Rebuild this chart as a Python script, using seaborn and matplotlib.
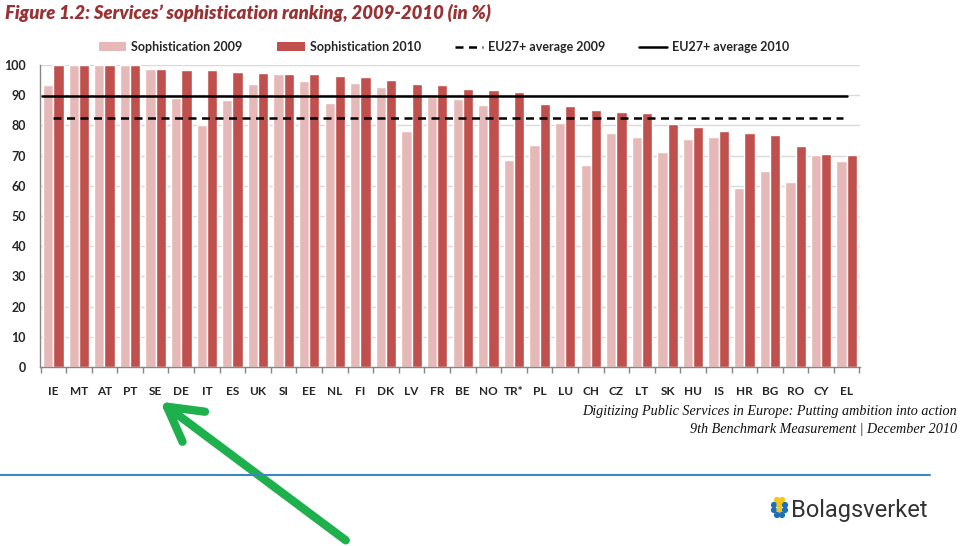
import matplotlib
matplotlib.use("Agg")
import matplotlib.pyplot as plt
from matplotlib.lines import Line2D
from matplotlib.patches import Patch, FancyArrowPatch, Circle
import pandas as pd
import seaborn as sns

# data
countries = ["IE", "MT", "AT", "PT", "SE", "DE", "IT", "ES", "UK", "SI", "EE",
             "NL", "FI", "DK", "LV", "FR", "BE", "NO", "TR*", "PL", "LU", "CH",
             "CZ", "LT", "SK", "HU", "IS", "HR", "BG", "RO", "CY", "EL"]
soph_2009 = [93.4, 100, 100, 100, 98.7, 89.0, 80.1, 88.4, 93.8, 96.9, 94.7,
             87.3, 93.9, 92.8, 78.1, 89.5, 88.7, 86.6, 68.6, 73.6, 80.8, 66.9,
             77.5, 76.3, 71.3, 75.4, 76.0, 59.4, 64.9, 61.2, 70.2, 68.1]
soph_2010 = [100, 100, 100, 100, 98.8, 98.5, 98.3, 97.8, 97.2, 97.0, 96.9,
             96.5, 95.9, 95.0, 93.7, 93.3, 91.9, 91.6, 91.1, 87.0, 86.5, 85.0,
             84.3, 84.1, 80.3, 79.6, 78.3, 77.5, 76.9, 73.1, 70.4, 70.1]
eu_avg_2009 = 82.5
eu_avg_2010 = 89.6
series_names = ["Sophistication 2009", "Sophistication 2010"]
y_ticks = list(range(0, 101, 10))

COL_2009 = "#E6B9B8"
COL_2010 = "#C0504D"

sns.set_theme(style="white")
plt.rcParams["font.family"] = ["Lato", "DejaVu Sans"]

df = pd.DataFrame({
    "country": countries * 2,
    "value": soph_2009 + soph_2010,
    "series": [series_names[0]] * len(countries) + [series_names[1]] * len(countries),
})

fig = plt.figure(figsize=(9.6, 5.46), dpi=100)
fig.patch.set_facecolor("white")
ax = fig.add_axes([40 / 960, 179 / 546, 820 / 960, 302 / 546])

sns.barplot(
    data=df, x="country", y="value", hue="series",
    palette=[COL_2009, COL_2010], width=0.8, saturation=1,
    legend=False, ax=ax,
)

n = len(countries)
ax.plot([-0.45, n - 1], [eu_avg_2010] * 2, color="black", lw=1.8)
ax.plot([0, n - 1.15], [eu_avg_2009] * 2, color="black", lw=1.8,
        dashes=(3.2, 2.2))

ax.set_xlim(-0.52, n - 0.48)
ax.set_ylim(0, 100)
ax.set_yticks(y_ticks)
ax.set_xlabel("")
ax.set_ylabel("")
ax.yaxis.grid(True, color="#D9D9D9", lw=1)
ax.set_axisbelow(True)
for side in ["top", "right"]:
    ax.spines[side].set_visible(False)
for side in ["left", "bottom"]:
    ax.spines[side].set_color("#868686")
    ax.spines[side].set_linewidth(1)

ax.tick_params(axis="y", length=4, color="#868686", labelsize=9, pad=6)
ax.tick_params(axis="x", length=0, labelsize=8.5, pad=14)
ax.set_xticks([i - 0.5 for i in range(n + 1)], minor=True)
ax.tick_params(axis="x", which="minor", length=4, color="#868686",
               direction="out", bottom=True)
for lab in ax.get_xticklabels() + ax.get_yticklabels():
    lab.set_fontweight("bold")

handles = [
    Patch(facecolor=COL_2009, edgecolor="none"),
    Patch(facecolor=COL_2010, edgecolor="none"),
    Line2D([0], [0], color="black", lw=1.8, dashes=(3.2, 2.2)),
    Line2D([0], [0], color="black", lw=1.8),
]
labels = series_names + ["EU27+ average 2009", "EU27+ average 2010"]
fig.legend(handles, labels, ncol=4, loc="center",
           bbox_to_anchor=(444 / 960, 1 - 47 / 546), frameon=False,
           prop={"weight": "bold", "size": 9}, handlelength=2.2,
           handleheight=0.7, columnspacing=2.75, handletextpad=0.4)

fig.text(5 / 960, 1 - 13 / 546,
         "Figure 1.2: Services\u2019 sophistication ranking, 2009-2010 (in %)",
         fontsize=13.3, fontweight="heavy", fontstyle="italic",
         color="#993234", va="center", ha="left")

fig.text(957 / 960, 1 - 411 / 546,
         "Digitizing Public Services in Europe: Putting ambition into action",
         family="Liberation Serif", fontstyle="italic", fontsize=10.2,
         ha="right", va="center", color="#111111")
fig.text(957 / 960, 1 - 429 / 546,
         "9th Benchmark Measurement | December 2010",
         family="Liberation Serif", fontstyle="italic", fontsize=10.2,
         ha="right", va="center", color="#111111")

fig.add_artist(Line2D([0, 930 / 960], [1 - 475 / 546] * 2,
                      transform=fig.transFigure, color="#3C86C1", lw=1.5))

# logo dots + name
dots = [(777, 500, "#F5C518"), (782, 500, "#F5C518"),
        (774, 505, "#1F6FB8"), (779.5, 505, "#F5C518"), (785, 505, "#1F6FB8"),
        (774, 510, "#1F6FB8"), (779.5, 510, "#F5C518"), (785, 510, "#1F6FB8"),
        (777, 515, "#1F6FB8"), (782, 515, "#1F6FB8")]
for x, y, c in dots:
    fig.add_artist(Circle((x, 546 - y), 2.4, transform=None, color=c,
                          zorder=5))
fig.text(791 / 960, 1 - 511 / 546, "Bolagsverket", family="Roboto",
         fontsize=17, color="#333333", ha="left", va="center")

arrow = FancyArrowPatch(
    (348 / 960, 4 / 546), (158 / 960, 146 / 546),
    transform=fig.transFigure,
    arrowstyle="->,head_length=0.8,head_width=0.45",
    mutation_scale=30, color="#1DB04C", lw=6, capstyle="round",
    joinstyle="round",
)
fig.add_artist(arrow)

fig.savefig("out.png", dpi=100)
